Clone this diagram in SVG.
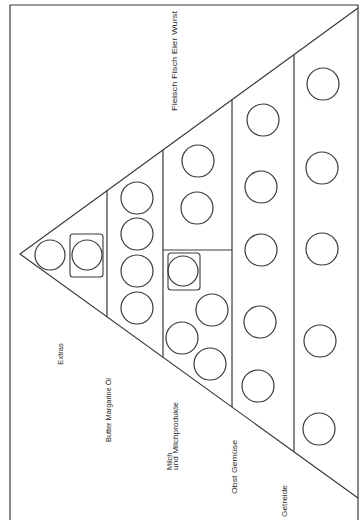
<svg xmlns="http://www.w3.org/2000/svg" width="361" height="520" viewBox="0 0 361 520">
<style>
.ln{fill:none;stroke:#3a3a3a;stroke-width:1.2}
.c{fill:none;stroke:#3a3a3a;stroke-width:1.2}
.br{fill:none;stroke:#3a3a3a;stroke-width:1.1}
.t{font-family:"Liberation Sans",Arial,sans-serif;font-size:7.5px;fill:#2a2a2a}
</style>
<rect width="361" height="520" fill="#ffffff"/>
<g id="frame">
<path class="ln" d="M10,520 V5 H358 V520"/>
</g>
<g id="connectors">
<path class="ln" d="M358,8 L20,254 L358,498"/>
<line class="ln" x1="107" y1="190.7" x2="107" y2="316.8"/>
<line class="ln" x1="163" y1="149.9" x2="163" y2="357.2"/>
<line class="ln" x1="232" y1="99.7" x2="232" y2="407"/>
<line class="ln" x1="294" y1="54.6" x2="294" y2="451.8"/>
<line class="ln" x1="163" y1="250" x2="232" y2="250"/>
</g>
<g id="extras">
<circle class="c" cx="50" cy="255" r="15"/>
<rect class="br" x="70" y="234" width="33" height="43" rx="3"/>
<circle class="c" cx="87" cy="255" r="15"/>
<text class="t" transform="translate(63,354) rotate(-90)" text-anchor="middle">Extras</text>
</g>
<g id="fette">
<circle class="c" cx="137" cy="198" r="16"/>
<circle class="c" cx="137" cy="234" r="16"/>
<circle class="c" cx="137" cy="271" r="16"/>
<circle class="c" cx="137" cy="308" r="16"/>
<text class="t" transform="translate(111,410) rotate(-90)" text-anchor="middle" textLength="64" lengthAdjust="spacingAndGlyphs">Butter Margarine Öl</text>
</g>
<g id="fleisch">
<circle class="c" cx="198" cy="161" r="16"/>
<circle class="c" cx="197" cy="208" r="16"/>
<text class="t" transform="translate(177,61) rotate(-90)" text-anchor="middle" textLength="100" lengthAdjust="spacingAndGlyphs">Fleisch Fisch Eier Wurst</text>
</g>
<g id="milch">
<rect class="br" x="168" y="253" width="32" height="37" rx="3"/>
<circle class="c" cx="183" cy="271" r="15"/>
<circle class="c" cx="212" cy="310" r="16"/>
<circle class="c" cx="182" cy="338" r="16"/>
<circle class="c" cx="210" cy="364" r="16"/>
<text class="t" transform="translate(171.5,470) rotate(-90)">Milch</text>
<text class="t" transform="translate(178,470) rotate(-90)" textLength="68" lengthAdjust="spacingAndGlyphs">und Milchprodukte</text>
</g>
<g id="obst">
<circle class="c" cx="263" cy="120" r="16"/>
<circle class="c" cx="261" cy="187" r="16"/>
<circle class="c" cx="261" cy="250" r="16"/>
<circle class="c" cx="260" cy="322" r="16"/>
<circle class="c" cx="258" cy="386" r="16"/>
<text class="t" transform="translate(237,467) rotate(-90)" text-anchor="middle" textLength="54" lengthAdjust="spacingAndGlyphs">Obst Gemüse</text>
</g>
<g id="getreide">
<circle class="c" cx="323" cy="84" r="16"/>
<circle class="c" cx="322" cy="168" r="16"/>
<circle class="c" cx="322" cy="249" r="16"/>
<circle class="c" cx="320" cy="341" r="16"/>
<circle class="c" cx="319" cy="429" r="16"/>
<text class="t" transform="translate(287,501) rotate(-90)" text-anchor="middle" textLength="32" lengthAdjust="spacingAndGlyphs">Getreide</text>
</g>
</svg>
